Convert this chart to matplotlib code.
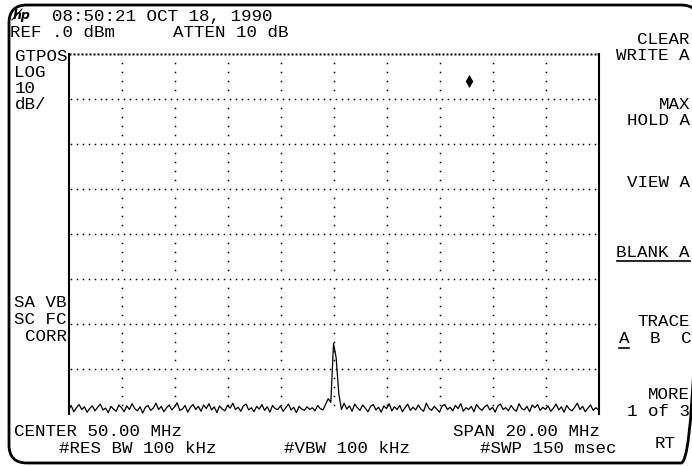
import matplotlib
matplotlib.use("Agg")
import matplotlib.pyplot as plt
import numpy as np
from matplotlib.patches import FancyBboxPatch

# ---------------- data ----------------
start_mhz = 40.0
stop_mhz = 60.0
ref_dbm = 0.0
bottom_dbm = -80.0

trace_dbm = [
    -79.2, -78.1, -79.5, -78.6, -77.9, -79.0, -78.4, -79.6, -78.8, -78.2,
    -79.3, -78.5, -77.8, -79.1, -78.7, -79.7, -78.3, -78.9, -79.4, -78.0,
    -78.6, -79.5, -78.2, -79.0, -77.7, -78.8, -79.3, -78.4, -79.8, -78.5,
    -78.1, -79.2, -78.7, -77.6, -79.0, -78.3, -79.5, -78.6, -78.0, -79.1,
    -78.4, -77.5, -79.2, -78.9, -78.1, -79.6, -78.5, -77.9, -79.0, -78.3,
    -79.4, -78.0, -78.8, -77.7, -79.1, -78.4, -79.7, -78.2, -78.9, -79.3,
    -78.1, -78.7, -77.6, -79.0, -78.5, -79.4, -78.2, -77.8, -79.1, -78.6,
    -79.5, -78.3, -78.9, -77.9, -79.2, -78.4, -79.6, -78.1, -78.8, -79.0,
    -78.2, -79.4, -78.6, -77.8, -79.1, -78.5, -79.7, -78.3, -78.9, -79.2,
    -78.4, -79.0, -78.6, -79.3, -78.1, -78.8, -79.1, -77.9, -76.6, -77.4,
    -64.3, -67.5, -75.5, -79.0, -77.6, -78.9, -78.2, -79.4, -77.8, -78.6,
    -79.2, -78.0, -78.7, -79.5, -78.3, -77.9, -79.1, -78.5, -79.6, -78.2,
    -78.8, -77.7, -79.3, -78.4, -79.0, -78.1, -79.5, -78.6, -77.8, -79.2,
    -78.5, -79.1, -78.0, -78.9, -79.4, -77.6, -78.7, -79.2, -78.3, -78.9,
    -79.6, -78.2, -77.9, -79.0, -78.5, -79.3, -78.1, -78.8, -77.7, -79.4,
    -78.6, -79.0, -78.3, -79.5, -77.9, -78.7, -79.2, -78.4, -78.0, -79.1,
    -78.5, -79.6, -78.2, -77.8, -79.0, -78.6, -79.3, -78.1, -78.9, -79.4,
    -77.7, -78.8, -79.1, -78.3, -79.5, -78.0, -78.6, -77.9, -79.2, -78.5,
    -79.0, -78.2, -79.4, -78.7, -77.8, -79.1, -78.4, -79.6, -78.1, -78.9,
    -79.3, -78.5, -77.6, -79.0, -78.3, -79.5, -78.7, -78.0, -79.2, -78.6,
    -79.1,
]

marker_mhz = [55.1]
marker_dbm = [-6.0]

header_time = "08:50:21 OCT 18, 1990"
header_ref = "REF .0 dBm"
header_atten = "ATTEN 10 dB"
left_labels = ["GTPOS", "LOG", "10", "dB/"]
left_lower = ["SA VB", "SC FC", "CORR"]
center_label = "CENTER 50.00 MHz"
span_label = "SPAN 20.00 MHz"
bottom_labels = ["#RES BW 100 kHz", "#VBW 100 kHz", "#SWP 150 msec"]
softkeys = ["CLEAR", "WRITE A", "MAX", "HOLD A", "VIEW A", "BLANK A",
            "TRACE", "MORE", "1 of 3"]
trace_keys = ["A", "B", "C"]
status_label = "RT"

# ---------------- figure ----------------
W, H = 692, 466
fig = plt.figure(figsize=(W / 100, H / 100), dpi=100)
fig.patch.set_facecolor("white")

ov = fig.add_axes([0, 0, 1, 1])
ov.set_xlim(0, W)
ov.set_ylim(H, 0)
ov.axis("off")

MONO = "Liberation Mono"
FS = 12.6
CAP = 5.8  # half cap-height in px (center -> baseline)


def txt(x, yc, s, ha="left", **kw):
    return ov.text(x, yc + CAP, s, ha=ha, va="baseline", family=MONO,
                   fontsize=FS, color="black", **kw)


# frame (right edge beyond the picture, only the rounded corners show)
frame = FancyBboxPatch((9, 5), 690, 458,
                       boxstyle="round,pad=0,rounding_size=18",
                       fill=False, lw=2.0, ec="black", clip_on=False)
ov.add_patch(frame)

# plot area
L, R, T, B = 68.5, 598.5, 54, 414
ax = fig.add_axes([L / W, 1 - B / H, (R - L) / W, (B - T) / H])
ax.set_xlim(start_mhz, stop_mhz)
ax.set_ylim(bottom_dbm, ref_dbm)
ax.set_xticks([])
ax.set_yticks([])
for s in ["top", "bottom"]:
    ax.spines[s].set_visible(False)
for s in ["left", "right"]:
    ax.spines[s].set_linewidth(1.5)
ax.patch.set_alpha(0)

div_x = (stop_mhz - start_mhz) / 10
div_y = (ref_dbm - bottom_dbm) / 8

# horizontal dotted graticule
hx = np.arange(start_mhz + 0.1, stop_mhz, div_x / 9)
for k in range(1, 8):
    yv = ref_dbm - k * div_y
    ax.plot(hx, np.full_like(hx, yv), ls="none", marker="s", ms=1.1,
            mec="none", mfc="black")
# top line (dense)
tx = np.arange(start_mhz + 0.05, stop_mhz, 0.15)
ax.plot(tx, np.full_like(tx, ref_dbm), ls="none", marker="s", ms=1.6,
        mec="none", mfc="black", clip_on=False)
# vertical dotted graticule
vy = [ref_dbm - k * div_y - j * div_y / 5 for k in range(8) for j in range(1, 5)]
for k in range(1, 10):
    xv = start_mhz + k * div_x
    ax.plot(np.full(len(vy), xv), vy, ls="none", marker="s", ms=1.1,
            mec="none", mfc="black")

# trace
freqs = np.linspace(start_mhz, stop_mhz, len(trace_dbm))
ax.plot(freqs, trace_dbm, color="black", lw=0.9, clip_on=False)

# marker
ax.plot(marker_mhz, marker_dbm, ls="none", marker="d", ms=5.5, color="black")
ax.plot(marker_mhz, marker_dbm, ls="none", marker="|", ms=9, mew=1.0,
        color="black")

# ---------------- text ----------------
ov.text(13, 19, "hp", family="DejaVu Sans", fontsize=9, style="italic",
        weight="bold", va="baseline")
ov.plot([12, 22], [20, 9], color="black", lw=0.8)

txt(52, 15, header_time)
txt(10, 31, header_ref)
txt(173, 31, header_atten)

left_y = [55, 71, 87, 103]
for s, y in zip(left_labels, left_y):
    txt(14.5, y, s)
lower_y = [301.5, 318.5, 335]
for s, y in zip(left_lower, lower_y):
    txt(67, y, s, ha="right")

txt(14, 430, center_label)
txt(453, 430, span_label)
bx = [59, 284, 480]
for s, x in zip(bottom_labels, bx):
    txt(x, 447.5, s)
txt(655, 442.5, status_label)

soft_y = [38, 54, 103, 119, 181, 251, 320, 393, 410]
soft_txt = {}
for s, y in zip(softkeys, soft_y):
    soft_txt[s] = txt(690, y, s, ha="right")

abc_x = [624, 655, 686]
abc_t = []
for s, x in zip(trace_keys, abc_x):
    abc_t.append(txt(x, 337, s, ha="center"))

# underlines
fig.canvas.draw()
r = fig.canvas.get_renderer()
inv = ov.transData.inverted()


def underline(t, y):
    bb = t.get_window_extent(r)
    (x0, _), (x1, _) = inv.transform([(bb.x0, bb.y0), (bb.x1, bb.y0)])
    ov.plot([x0, x1], [y, y], color="black", lw=1.2)


underline(soft_txt["BLANK A"], 261)
underline(abc_t[0], 348)

fig.savefig("out.png", dpi=100, facecolor="white")
